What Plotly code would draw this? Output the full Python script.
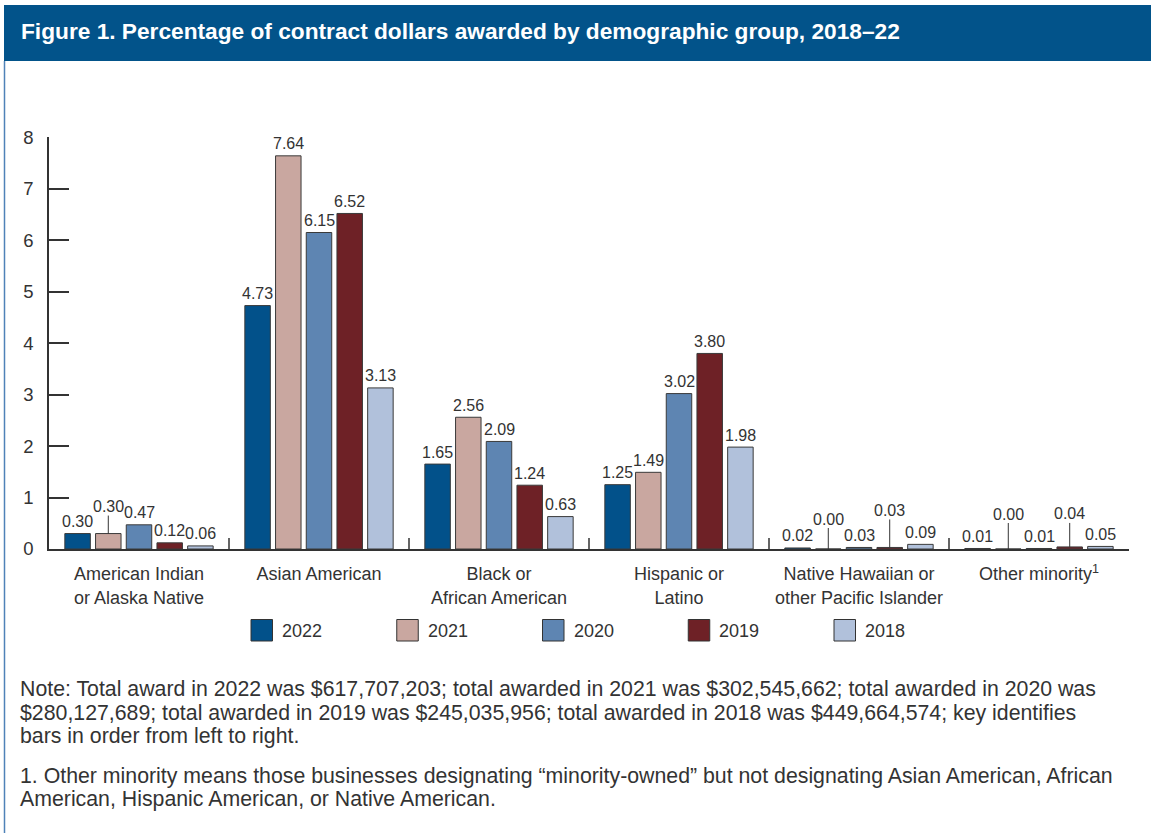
import plotly.graph_objects as go

# ---------------- data ----------------
categories = [
    "American Indian<br>or Alaska Native",
    "Asian American",
    "Black or<br>African American",
    "Hispanic or<br>Latino",
    "Native Hawaiian or<br>other Pacific Islander",
    "Other minority<sup>1</sup>",
]
years = ["2022", "2021", "2020", "2019", "2018"]
v2022 = [0.30, 4.73, 1.65, 1.25, 0.02, 0.01]
v2021 = [0.30, 7.64, 2.56, 1.49, 0.00, 0.00]
v2020 = [0.47, 6.15, 2.09, 3.02, 0.03, 0.01]
v2019 = [0.12, 6.52, 1.24, 3.80, 0.03, 0.04]
v2018 = [0.06, 3.13, 0.63, 1.98, 0.09, 0.05]
y_ticks = [0, 1, 2, 3, 4, 5, 6, 7, 8]

title_text = "Figure 1. Percentage of contract dollars awarded by demographic group, 2018\u201322"
note_lines = [
    "Note: Total award in 2022 was $617,707,203; total awarded in 2021 was $302,545,662; total awarded in 2020 was",
    "$280,127,689; total awarded in 2019 was $245,035,956; total awarded in 2018 was $449,664,574; key identifies",
    "bars in order from left to right.",
]
foot_lines = [
    "1. Other minority means those businesses designating \u201cminority-owned\u201d but not designating Asian American, African",
    "American, Hispanic American, or Native American.",
]

# ---------------- style ----------------
series = [v2022, v2021, v2020, v2019, v2018]
colors = ["#02518A", "#C9A7A0", "#5E85B2", "#6E2126", "#B1C1DB"]
# labels drawn with a leader line: (category index, series index) -> pixel offset
leader = {(0, 1): -27, (4, 1): -30, (4, 3): -37, (5, 1): -35, (5, 3): -33}

W, H = 1151, 833
FONT = "Liberation Sans, Arial, sans-serif"
TXT = "#333333"
BARGAP = 0.147
BARGROUPGAP = 0.17


def px_x(p):
    return p / W


def px_y(p):
    return 1 - p / H


x_pos = list(range(len(categories)))

fig = go.Figure()
for name, vals, col in zip(years, series, colors):
    fig.add_trace(go.Bar(
        x=x_pos, y=vals, name=name,
        marker=dict(color=col, line=dict(color="#3a3a3a", width=1)),
        showlegend=False, hoverinfo="x+y+name",
    ))

# data labels
n = len(series)
slot = (1 - BARGAP) / n
annotations = []
for k, vals in enumerate(series):
    for i, v in enumerate(vals):
        xc = i + (k - (n - 1) / 2) * slot
        txt = f"{v:.2f}"
        if (i, k) in leader:
            annotations.append(dict(
                x=xc, y=v, xref="x", yref="y", text=txt, showarrow=True,
                arrowhead=0, arrowwidth=1, arrowcolor=TXT, ax=0, ay=leader[(i, k)],
                font=dict(family=FONT, size=16, color=TXT), borderpad=0, standoff=0,
            ))
        else:
            annotations.append(dict(
                x=xc, y=v, xref="x", yref="y", text=txt, showarrow=False,
                yanchor="middle", yshift=12,
                font=dict(family=FONT, size=16, color=TXT),
            ))

# title
annotations.append(dict(
    x=px_x(19), y=px_y(31), xref="paper", yref="paper", xanchor="left", yanchor="middle",
    text="<b>" + title_text + "</b>", showarrow=False,
    font=dict(family=FONT, size=22.7, color="white"),
))
# notes, one line each
for j, line in enumerate(note_lines):
    annotations.append(dict(
        x=px_x(18), y=px_y(689 + 23.7 * j), xref="paper", yref="paper",
        xanchor="left", yanchor="middle", text=line, showarrow=False,
        font=dict(family=FONT, size=21.3, color=TXT),
    ))
for j, line in enumerate(foot_lines):
    annotations.append(dict(
        x=px_x(18), y=px_y(775.5 + 23.7 * j), xref="paper", yref="paper",
        xanchor="left", yanchor="middle", text=line, showarrow=False,
        font=dict(family=FONT, size=21.3, color=TXT),
    ))

shapes = []
# title bar
shapes.append(dict(type="rect", xref="paper", yref="paper", x0=px_x(4), x1=1,
                   y0=px_y(61), y1=px_y(5), fillcolor="#02538A", line=dict(width=0), layer="below"))
# left frame line
shapes.append(dict(type="line", xref="paper", yref="paper", x0=px_x(4.5), x1=px_x(4.5),
                   y0=0, y1=px_y(61), line=dict(color="#4F82B8", width=1.5)))
# group separators on x axis
for i in range(len(categories) - 1):
    shapes.append(dict(type="line", xref="x", yref="y", x0=i + 0.5, x1=i + 0.5,
                       ysizemode="pixel", yanchor=0, y0=0, y1=11,
                       line=dict(color=TXT, width=1.5)))

# legend (manual, large square swatches)
for k, (name, col) in enumerate(zip(years, colors)):
    x0 = 251 + k * 145.75
    shapes.append(dict(type="rect", xref="paper", yref="paper",
                       x0=px_x(x0), x1=px_x(x0 + 21.5), y0=px_y(641), y1=px_y(619.5),
                       fillcolor=col, line=dict(color="#333333", width=1)))
    annotations.append(dict(x=px_x(x0 + 29), y=px_y(630.5), xref="paper", yref="paper",
                            xanchor="left", yanchor="middle", text=name, showarrow=False,
                            font=dict(family=FONT, size=18, color=TXT)))

fig.update_layout(
    width=W, height=H, autosize=False,
    margin=dict(l=0, r=0, t=0, b=0, pad=0, autoexpand=False),
    paper_bgcolor="white", plot_bgcolor="white",
    barmode="group", bargap=BARGAP, bargroupgap=BARGROUPGAP,
    font=dict(family=FONT, color=TXT),
    xaxis=dict(
        domain=[px_x(49), px_x(1129)], range=[-0.5, len(categories) - 0.5],
        tickmode="array", tickvals=x_pos, ticktext=categories, automargin=False,
        ticks="", showgrid=False, zeroline=False,
        showline=True, linecolor=TXT, linewidth=1.5,
        tickfont=dict(family=FONT, size=18, color=TXT), ticklabelstandoff=8,
    ),
    yaxis=dict(
        domain=[px_y(549), px_y(137.3)], range=[0, 8], automargin=False,
        tickmode="array", tickvals=y_ticks,
        ticks="inside", ticklen=20, tickwidth=1.5, tickcolor=TXT,
        showgrid=False, zeroline=False,
        showline=True, linecolor=TXT, linewidth=1.5,
        tickfont=dict(family=FONT, size=18.5, color=TXT), ticklabelstandoff=10,
    ),
    annotations=annotations,
    shapes=shapes,
)

fig.write_html("out.html")
